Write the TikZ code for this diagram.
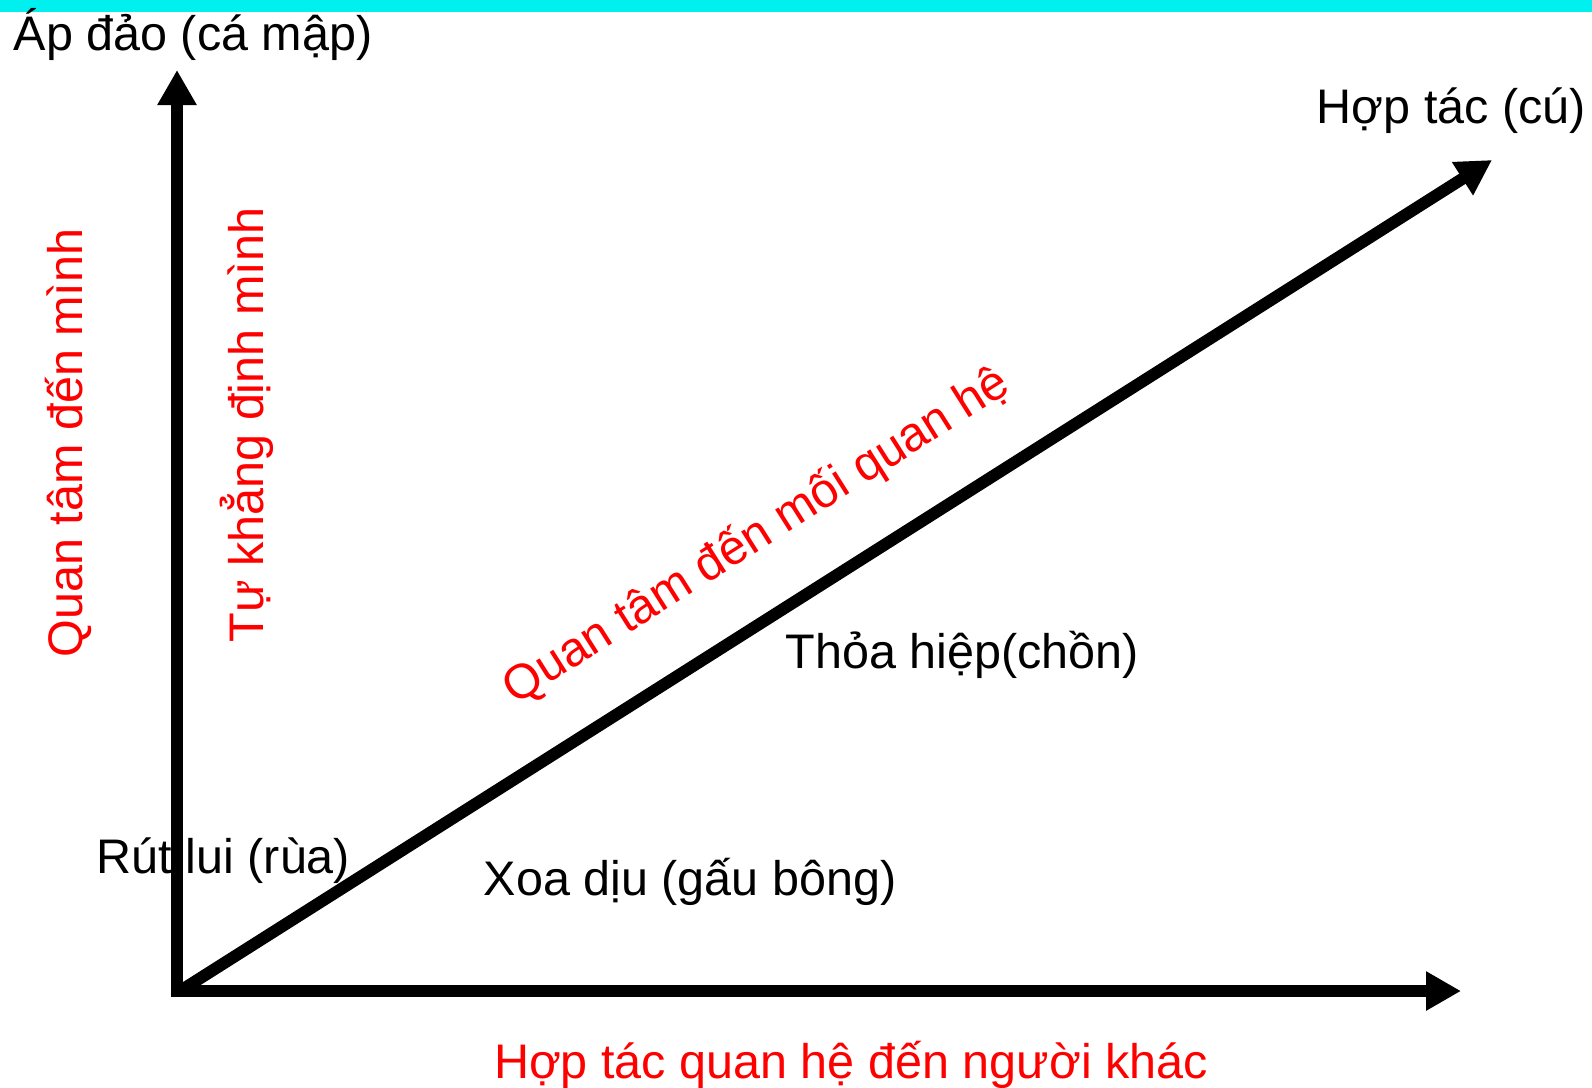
\documentclass[tikz,border=0pt]{standalone}
\usepackage{fontspec}
\setmainfont{Liberation Sans}
\usetikzlibrary{arrows.meta}
\definecolor{barcyan}{RGB}{0,240,240}

\begin{document}
\begin{tikzpicture}[
  x=0.01cm, y=-0.01cm,
  font=\fontsize{13.8}{16}\selectfont,
  lbl/.style    = {inner sep=0pt, text=black},
  redlbl/.style = {inner sep=0pt, text=red},
  axis/.style   = {line width=3.4pt, -{Triangle[length=0.35cm, width=0.37cm]}},
]
\useasboundingbox (0,0) rectangle (1592,1087);

% --- top strip ------------------------------------------------------------
\fill[barcyan] (0,0) rectangle (1592,12);

% --- corner labels --------------------------------------------------------
\node[lbl, anchor=base west] (shark) at (13,50) {Áp đảo (cá mập)};
\node[lbl, anchor=base west] (owl) at (1316,123) {Hợp tác (cú)};

% --- styles inside the plane ----------------------------------------------
\node[lbl, anchor=base west] (fox) at (785,668) {Thỏa hiệp(chồn)};
\node[lbl, anchor=base west] (teddy) at (483,895) {Xoa dịu (gấu bông)};
\node[lbl, anchor=base west] (turtle) at (96,873) {Rút lui (rùa)};

% --- axis captions --------------------------------------------------------
\node[redlbl, anchor=base, rotate=90] (selfcare) at (82,443) {Quan tâm đến mình};
\node[redlbl, anchor=base, rotate=90] (assert) at (263,425) {Tự khẳng định mình};
\node[redlbl, anchor=base, rotate=32.3] (relcare) at (764,548) {Quan tâm đến mối quan hệ};
\node[redlbl, anchor=base] (others) at (851,1078) {Hợp tác quan hệ đến người khác};

% --- axes -----------------------------------------------------------------
\coordinate (O) at (177,991);
\coordinate (ytip) at (177,70);
\coordinate (xtip) at (1461,991);
\coordinate (dtip) at (1492,160);

\draw[axis] ([yshift=-0.06cm]O) -- (ytip);
\draw[axis] (O) -- (xtip);
\draw[axis] ([xshift=0.03cm]O) -- (dtip);

\end{tikzpicture}
\end{document}
